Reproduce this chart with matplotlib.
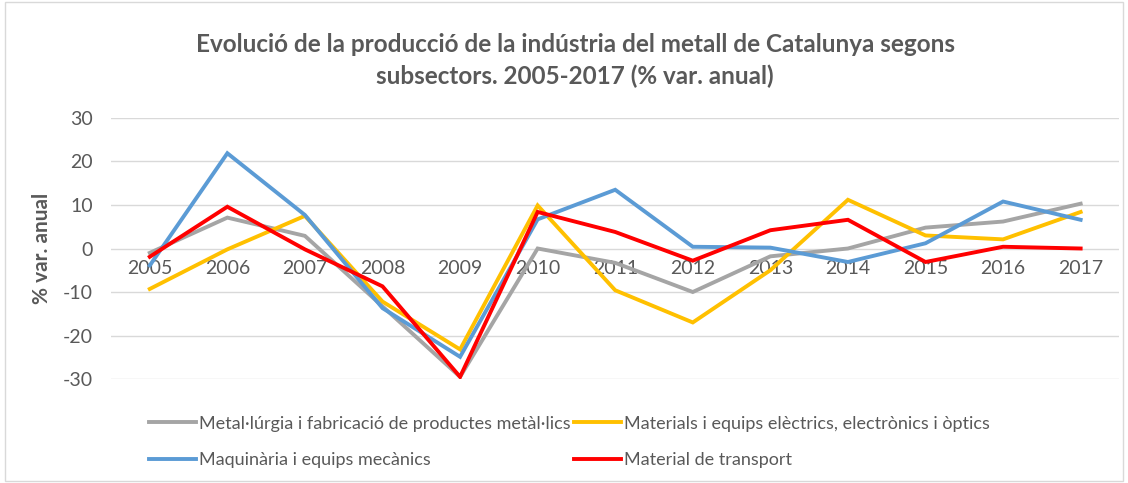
import numpy as np
import matplotlib.pyplot as plt
from matplotlib.patches import Rectangle

# dades
anys = ['2005', '2006', '2007', '2008', '2009', '2010', '2011',
        '2012', '2013', '2014', '2015', '2016', '2017']
metallurgia = [-1.0, 7.1, 2.9, -13.3, -29.5, 0.0, -3.3, -10.0, -1.8, 0.0, 4.8, 6.2, 10.3]
electrics = [-9.3, -0.2, 7.5, -12.2, -23.2, 9.9, -9.6, -17.0, -5.0, 11.2, 3.0, 2.1, 8.4]
maquinaria = [-3.9, 21.9, 7.7, -13.7, -24.9, 6.7, 13.5, 0.4, 0.2, -3.1, 1.2, 10.8, 6.6]
transport = [-1.9, 9.6, -0.2, -8.7, -29.5, 8.4, 3.8, -2.8, 4.2, 6.6, -3.1, 0.4, 0.0]

noms = ['Metal·lúrgia i fabricació de productes metàl·lics',
        'Materials i equips elèctrics, electrònics i òptics',
        'Maquinària i equips mecànics',
        'Material de transport']
colors = ['#A5A5A5', '#FFC000', '#5B9BD5', '#FF0000']

plt.rcParams['font.family'] = ['Lato', 'DejaVu Sans']
plt.rcParams['axes.unicode_minus'] = False
text_color = '#595959'

fig = plt.figure(figsize=(11.28, 4.83), dpi=100)
fig.patches.append(Rectangle((0.004, 0.004), 0.992, 0.992, transform=fig.transFigure,
                             fill=False, edgecolor='#D9D9D9', linewidth=1))
ax = fig.add_axes([0.0984, 0.2153, 0.894, 0.5404])

x = np.arange(len(anys))
linies = []
for serie, c, nom in zip([metallurgia, electrics, maquinaria, transport], colors, noms):
    l, = ax.plot(x, serie, color=c, linewidth=2.8, label=nom, solid_joinstyle='miter')
    linies.append(l)

ax.set_xlim(-0.5, len(anys) - 0.5)
ax.set_ylim(-30, 30)
ax.set_yticks(np.arange(-30, 31, 10))
ax.grid(axis='y', color='#D9D9D9', linewidth=1)
ax.set_axisbelow(True)
for s in ax.spines.values():
    s.set_visible(False)
ax.spines['bottom'].set_position(('data', 0))

ax.set_xticks(x)
ax.set_xticklabels(anys)
ax.tick_params(axis='x', length=0, pad=8, labelsize=14, labelcolor=text_color)
ax.tick_params(axis='y', length=0, pad=13, labelsize=14, labelcolor=text_color)

ax.set_ylabel('% var. anual', fontsize=15, fontweight='bold', color=text_color, labelpad=8)

fig.text(0.51, 0.874, 'Evolució de la producció de la indústria del metall de Catalunya segons\n'
         'subsectors. 2005-2017 (% var. anual)', ha='center', va='center',
         fontsize=17.5, fontweight='bold', color=text_color, linespacing=1.45)

# ordre per files com a l'original
ordre = [0, 2, 1, 3]
fig.legend([linies[i] for i in ordre], [noms[i] for i in ordre],
           loc='upper left', bbox_to_anchor=(0.118, 0.173), ncol=2, frameon=False,
           fontsize=13, handlelength=2.6, handletextpad=0.15, columnspacing=0.2,
           labelspacing=1.15, labelcolor=text_color)

fig.savefig('out.png', dpi=100)
